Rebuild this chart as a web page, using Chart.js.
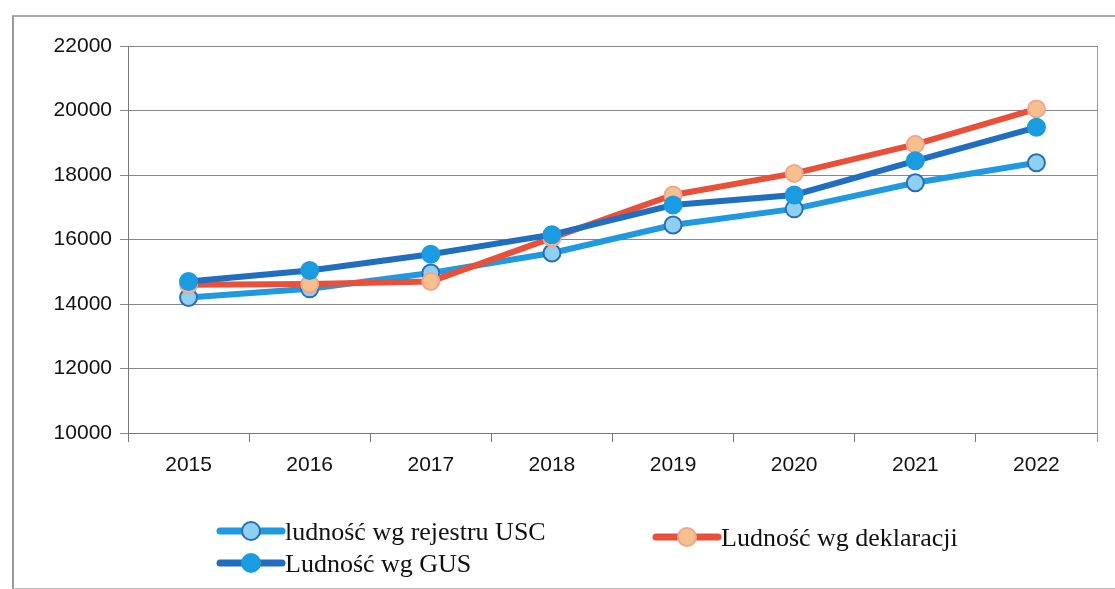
<!DOCTYPE html>
<html>
<head>
<meta charset="utf-8">
<script src="https://cdn.jsdelivr.net/npm/chart.js@4"></script>
<style>
  html, body { margin: 0; padding: 0; background: #fff; }
  #wrap { position: relative; width: 1115px; height: 589px; }
  #frame { position: absolute; left: 12px; top: 15px; width: 1120px; height: 571px;
           border-left: 2px solid #999; border-top: 2px solid #aaa; border-bottom: 1px solid #bbb; }
  canvas { position: absolute; left: 0; top: 0; }
</style>
</head>
<body>
<div id="wrap">
  <div id="frame"></div>
  <canvas id="myChart" width="1115" height="589"></canvas>
</div>
<script>
// --- dane ---
const years = ['2015', '2016', '2017', '2018', '2019', '2020', '2021', '2022'];
const usc = [14200, 14470, 14960, 15580, 16450, 16950, 17760, 18380];
const deklaracje = [14600, 14620, 14700, 16050, 17380, 18050, 18950, 20050];
const gus = [14700, 15040, 15540, 16150, 17070, 17380, 18440, 19480];
const yTicks = [10000, 12000, 14000, 16000, 18000, 20000, 22000];

const seriesNames = ['ludność wg rejestru USC', 'Ludność wg deklaracji', 'Ludność wg GUS'];

// --- legenda rysowana ręcznie (linia + znacznik) ---
const legendPos = [
  { x: 220, y: 531 },
  { x: 656, y: 537 },
  { x: 220, y: 563 }
];

const lineLegend = {
  id: 'lineLegend',
  afterDraw(chart) {
    const ctx = chart.ctx;
    chart.data.datasets.forEach((ds, i) => {
      const p = legendPos[i];
      ctx.save();
      ctx.strokeStyle = ds.borderColor;
      ctx.lineWidth = 7;
      ctx.lineCap = 'round';
      ctx.beginPath();
      ctx.moveTo(p.x, p.y);
      ctx.lineTo(p.x + 62, p.y);
      ctx.stroke();
      ctx.beginPath();
      ctx.arc(p.x + 31, p.y, 9, 0, Math.PI * 2);
      ctx.fillStyle = ds.pointBackgroundColor;
      ctx.fill();
      ctx.lineWidth = 2;
      ctx.strokeStyle = ds.pointBorderColor;
      ctx.stroke();
      ctx.fillStyle = '#111';
      ctx.font = '26px "Liberation Serif", "Times New Roman", serif';
      ctx.textBaseline = 'middle';
      ctx.fillText(ds.label, p.x + 65, p.y + 2);
      ctx.restore();
    });
  }
};

const tickFont = { family: 'Liberation Sans, Arial', size: 21 };

const ctx = document.getElementById('myChart').getContext('2d');
new Chart(ctx, {
  type: 'line',
  data: {
    labels: years,
    datasets: [
      {
        label: seriesNames[0],
        data: usc,
        borderColor: '#1f9ae0',
        pointBackgroundColor: '#8dd0f2',
        pointBorderColor: '#2a6db5',
        order: 2
      },
      {
        label: seriesNames[1],
        data: deklaracje,
        borderColor: '#e8503a',
        pointBackgroundColor: '#f6c08e',
        pointBorderColor: '#f2a58c',
        order: 1
      },
      {
        label: seriesNames[2],
        data: gus,
        borderColor: '#1f6ec0',
        pointBackgroundColor: '#1a9be2',
        pointBorderColor: '#1a9be2',
        order: 0
      }
    ].map(d => Object.assign({
      borderWidth: 6,
      pointRadius: 8.5,
      pointBorderWidth: 2,
      tension: 0,
      fill: false
    }, d))
  },
  options: {
    responsive: false,
    animation: false,
    layout: { padding: { top: 46, right: 18, left: 0, bottom: 0 } },
    plugins: { legend: { display: false }, tooltip: { enabled: false } },
    scales: {
      x: {
        offset: true,
        grid: { offset: true, drawOnChartArea: false, drawTicks: true, tickLength: 9, color: '#777' },
        border: { color: '#777', width: 1 },
        ticks: { color: '#111', padding: 11, font: tickFont },
        afterFit(scale) { scale.height = 589 - 433; }
      },
      y: {
        min: 10000,
        max: 22000,
        afterBuildTicks(scale) { scale.ticks = yTicks.map(v => ({ value: v })); },
        grid: { color: '#888', tickLength: 8, lineWidth: 1 },
        border: { color: '#777', width: 1 },
        ticks: {
          color: '#111', padding: 8,
          font: tickFont,
          callback: v => String(v)
        },
        afterFit(scale) { scale.width = 128; }
      }
    }
  },
  plugins: [lineLegend, {
    id: 'rightEdge',
    afterDraw(chart) {
      const a = chart.chartArea;
      const c = chart.ctx;
      c.save();
      c.strokeStyle = '#999';
      c.lineWidth = 1;
      c.beginPath();
      c.moveTo(a.right + 0.5, a.top);
      c.lineTo(a.right + 0.5, a.bottom + 9);
      c.stroke();
      c.restore();
    }
  }]
});
</script>
</body>
</html>
